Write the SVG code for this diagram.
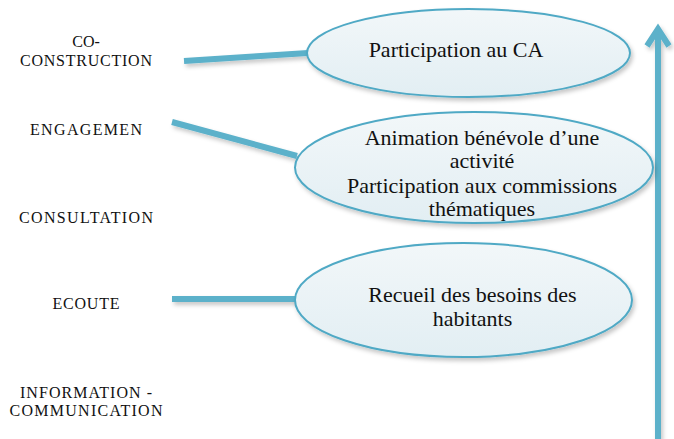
<svg xmlns="http://www.w3.org/2000/svg" width="674" height="439" viewBox="0 0 674 439">
<defs>
<linearGradient id="g" x1="0" y1="0" x2="0" y2="1">
<stop offset="0" stop-color="#f2f7f9"/>
<stop offset="1" stop-color="#e2eef3"/>
</linearGradient>
<filter id="sh" x="-10%" y="-20%" width="130%" height="150%">
<feDropShadow dx="2" dy="3" stdDeviation="2" flood-color="#000" flood-opacity="0.22"/>
</filter>
<style>
.lbl{font-size:16px;fill:#111;text-anchor:middle}
.txt{font-size:22px;fill:#111;text-anchor:middle}
.ell{fill:url(#g);stroke:#4fa9c5;stroke-width:2}
.con{stroke:#5cb1ca;stroke-width:6;fill:none;stroke-linecap:butt}
</style>
</defs>
<rect width="674" height="439" fill="#fff"/>
<g id="labels" font-family="Liberation Serif, DejaVu Serif, serif">
<text class="lbl" x="86" y="47">CO-</text>
<text class="lbl" x="86" y="66" textLength="132" lengthAdjust="spacing">CONSTRUCTION</text>
<text class="lbl" x="86" y="135" textLength="112" lengthAdjust="spacing">ENGAGEMEN</text>
<text class="lbl" x="86" y="223" textLength="134" lengthAdjust="spacing">CONSULTATION</text>
<text class="lbl" x="86" y="309" textLength="67" lengthAdjust="spacing">ECOUTE</text>
<text class="lbl" x="86" y="398" textLength="132" lengthAdjust="spacing">INFORMATION -</text>
<text class="lbl" x="86" y="416" textLength="153" lengthAdjust="spacing">COMMUNICATION</text>
</g>
<g id="connectors" filter="url(#sh)">
<line class="con" x1="184" y1="61" x2="308" y2="53"/>
<line class="con" x1="172" y1="122" x2="297" y2="156"/>
<line class="con" x1="172" y1="299" x2="297" y2="299"/>
<g id="axis">
<line class="con" x1="658" y1="439" x2="658" y2="30" stroke-width="5"/>
<polyline class="con" points="647,46 658,29 669,46" stroke-width="6" stroke-linejoin="miter"/>
</g>
</g>
<g id="node-ca" font-family="Liberation Serif, DejaVu Serif, serif">
<ellipse class="ell" cx="468.5" cy="53" rx="161.5" ry="44" filter="url(#sh)"/>
<text class="txt" x="456" y="57">Participation au CA</text>
</g>
<g id="node-animation" font-family="Liberation Serif, DejaVu Serif, serif">
<ellipse class="ell" cx="474" cy="167.5" rx="179" ry="55.5" filter="url(#sh)"/>
<text class="txt" x="482" y="145">Animation bénévole d’une</text>
<text class="txt" x="482" y="168">activité</text>
<text class="txt" x="482" y="193">Participation aux commissions</text>
<text class="txt" x="482" y="216">thématiques</text>
</g>
<g id="node-recueil" font-family="Liberation Serif, DejaVu Serif, serif">
<ellipse class="ell" cx="463.5" cy="300" rx="168.5" ry="57" filter="url(#sh)"/>
<text class="txt" x="472.5" y="302">Recueil des besoins des</text>
<text class="txt" x="472.5" y="326">habitants</text>
</g>
</svg>
